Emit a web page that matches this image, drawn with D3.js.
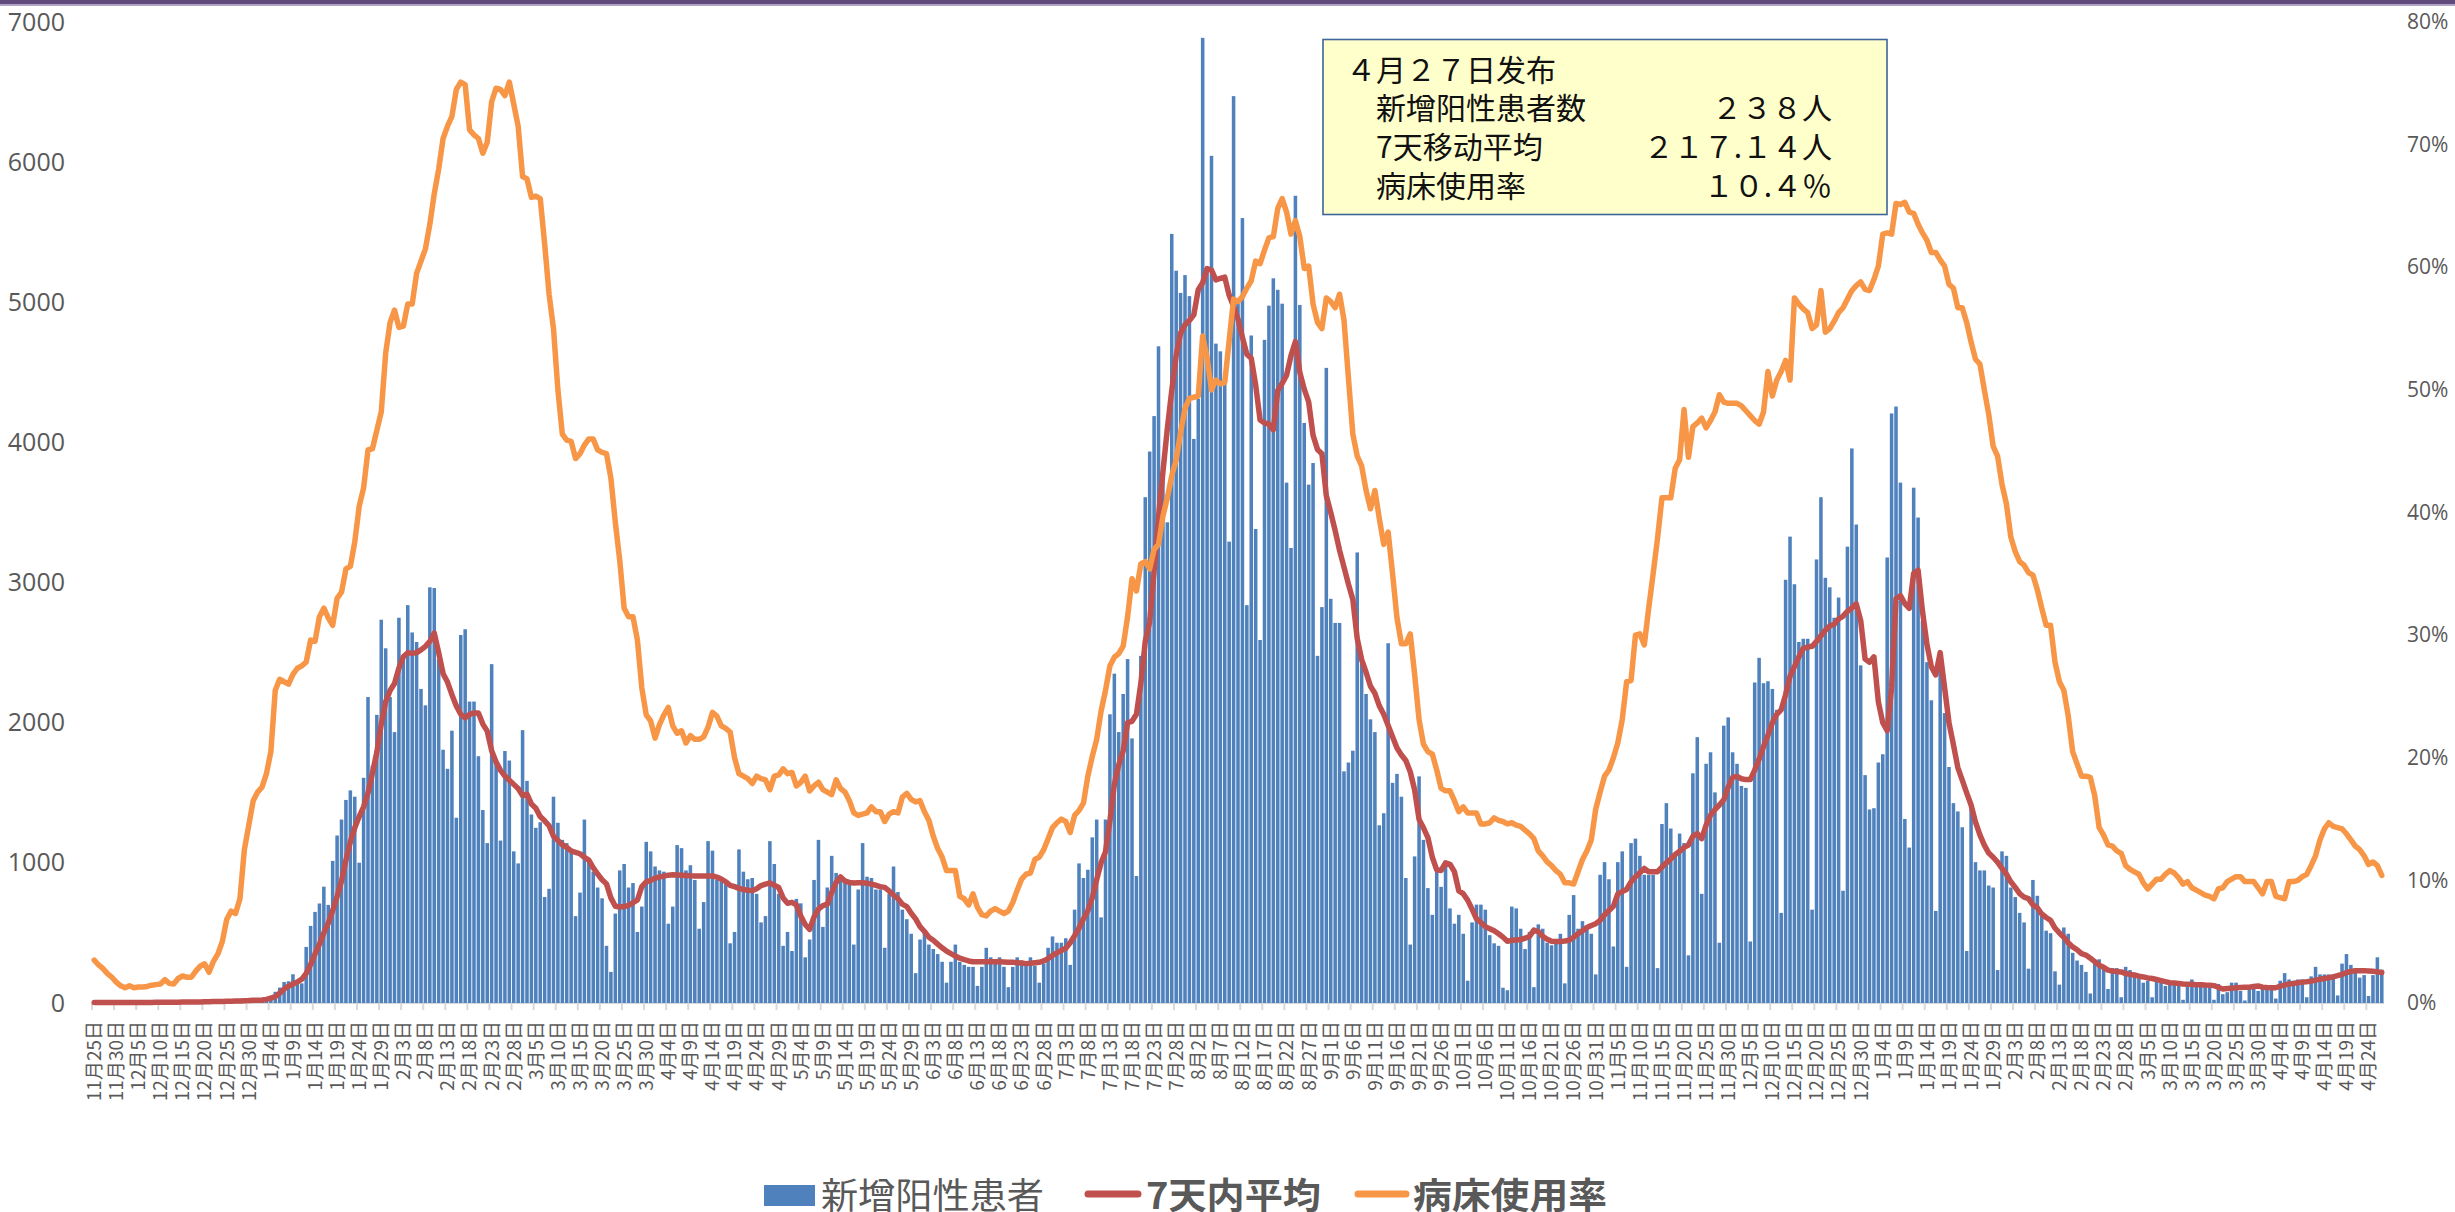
<!DOCTYPE html>
<html><head><meta charset="utf-8">
<script src="https://cdn.jsdelivr.net/npm/d3@7"></script>
<style>body{margin:0;background:#fff;overflow:hidden}</style>
</head><body>
<svg id="chart" width="2455" height="1212" xmlns="http://www.w3.org/2000/svg"></svg>
<script>
// ---------- data ----------
const firstDay = {year: 2020, month: 11, day: 25};   // first category: 11月25日
const newCases = [
2,3,1,4,2,3,5,2,4,6, 3,5,4,7,3,6,8,5,9,4, 7,10,6,12,8,11,9,14,10,13, 16,12,18,15,20,17,22,25,28,30,
45,80,110,150,155,205,135,140,400,550, 650,710,830,700,1014,1195,1309,1449,1517,1472,
1001,1607,2183,1693,2056,2735,2531,2183,1933,2749, 2454,2839,2644,2576,2241,2124,2966,2961,2454,1807,
1671,1943,1322,2626,2667,2151,2151,1761,1377,1141, 2418,1707,1159,1798,1730,1082,996,1947,1585,1345,
1250,1290,756,815,1472,1286,1164,1141,1096,620, 788,1309,1028,937,824,747,408,222,638,946,
992,824,856,507,688,1150,1082,974,946,937, 566,688,1127,1105,946,983,878,530,720,1155,
1087,878,869,847,426,507,1096,937,883,892, 779,575,620,1155,992,779,408,507,371,743,
711,326,453,878,1164,543,824,1050,928,892, 869,847,417,810,1141,901,892,810,810,394,
779,974,792,666,598,494,213,453,507,417, 385,349,294,145,294,417,294,272,258,258,
122,258,394,326,303,326,258,113,258,326, 303,281,326,267,145,281,394,475,430,430,
462,272,666,996,892,951,1182,1309,611,1309, 2060,2350,1933,2205,2454,1888,906,2477,3609,3935,
4188,4686,3754,3430,5488,5225,5067,5194,5044,4025, 4311,6887,5239,6045,4705,4650,4424,3292,6471,4990,
5601,2839,4763,3382,2590,4732,4976,5171,5089,4990, 3713,3247,5760,4981,4139,3699,3853,2477,2825,4532,
2884,2712,2712,1653,1716,1800,3215,2477,2205,2024, 1933,1268,1354,2567,1571,1635,1472,892,417,1046,
1617,1164,820,629,937,829,974,675,566,629, 494,159,575,702,702,666,484,426,408,109,
91,688,675,530,385,507,113,561,530,430, 412,430,494,140,629,770,530,584,552,494,
204,915,1005,883,403,1005,1082,258,1141,1173, 1050,915,915,915,249,1277,1426,1245,1064,1209,
1141,340,1639,1897,779,1707,1789,1503,430,1979, 2038,1789,1707,1549,1535,439,2287,2463,2282,2296,
2241,2092,643,3020,3328,2988,2576,2599,2599,666, 3165,3609,3034,2966,2749,2893,801,3256,3957,3414,
2409,1626,1381,1390,1716,1775,3179,4207,4256,3713, 1313,1109,3677,3464,2726,2432,2160,657,2386,2069,
1684,1426,1367,1254,371,1399,1005,946,946,838, 824,235,1082,1050,824,756,643,575,245,878,
765,620,516,498,226,131,539,494,358,303, 272,222,68,303,312,258,100,249,249,41,
258,235,204,177,145,159,41,177,177,122, 131,131,122,23,122,168,122,122,122,122,
23,136,63,77,145,145,86,18,113,136, 86,113,113,113,32,159,213,168,159,168,
168,41,190,258,204,204,204,204,54,281, 349,272,235,181,199,50,199,326,238
];
const avg7 = [
3,3,3,3,3,3,3,3,3,4, 4,4,4,4,5,5,5,6,6,6, 7,7,7,8,8,9,9,10,10,11, 12,13,14,15,16,17,19,20,22,25,
35,45,70,100,120,135,150,170,210,275, 350,420,500,570,660,760,870,1020,1150,1250,
1330,1400,1500,1640,1790,1990,2150,2230,2280,2390, 2470,2500,2495,2500,2520,2545,2580,2640,2500,2350,
2290,2200,2120,2060,2035,2060,2070,2070,1990,1940, 1800,1720,1660,1620,1590,1560,1530,1480,1490,1420,
1390,1330,1300,1265,1190,1160,1130,1110,1085,1075, 1065,1040,1020,965,920,880,850,750,690,685,
688,697,715,735,830,865,875,890,900,905, 912,915,914,912,910,908,907,906,906,906,
906,898,885,865,840,830,818,810,805,802, 815,838,848,856,840,824,750,712,718,700,
620,560,525,615,670,695,705,790,860,900, 870,860,856,858,858,855,848,840,830,825,
800,770,745,705,688,640,600,545,510,470, 448,420,394,370,352,335,320,310,300,294,
294,294,294,294,294,294,292,290,290,288, 285,281,283,287,290,300,317,340,358,375,
390,430,480,535,600,660,750,880,1000,1080, 1300,1560,1700,1800,2000,2010,2060,2280,2580,2720,
3080,3470,3790,4100,4370,4620,4780,4840,4870,4910, 5090,5140,5240,5230,5160,5170,5180,5050,4970,4880,
4750,4630,4600,4410,4160,4140,4130,4090,4370,4420, 4480,4620,4720,4500,4380,4290,4050,3950,3920,3620,
3500,3370,3230,3110,2990,2880,2600,2450,2360,2260, 2210,2120,2060,1980,1900,1820,1770,1730,1650,1520,
1310,1250,1180,1040,950,946,1000,990,937,800, 780,734,670,600,575,545,530,515,494,470,
440,447,450,453,462,475,520,510,475,455, 440,439,439,442,448,470,494,515,539,553,
566,590,630,660,690,779,795,810,865,900, 930,960,937,937,937,970,1000,1028,1060,1082,
1110,1127,1190,1209,1173,1270,1340,1380,1413,1450, 1540,1610,1617,1600,1594,1594,1662,1740,1830,1911,
2000,2060,2092,2200,2330,2400,2470,2531,2540,2545, 2580,2620,2660,2690,2703,2740,2760,2794,2820,2848,
2730,2454,2432,2470,2150,2000,1943,2250,2884,2907, 2850,2816,3065,3088,2794,2560,2400,2341,2500,2250,
2000,1843,1680,1590,1500,1413,1290,1200,1127,1070, 1040,1005,960,920,865,825,780,755,745,700,
680,635,610,590,535,500,470,430,400,380, 352,342,320,295,270,255,235,228,225,222,
210,204,200,192,186,179,175,168,160,152, 145,142,139,136,134,133,131,130,128,127,
124,112,100,103,106,109,111,113,113,118, 122,113,110,109,109,120,128,136,140,145,
149,152,156,163,170,175,181,186,195,204, 218,225,231,231,231,229,226,222,217.14
];
const bedRate = [
3.5,3.1,2.8,2.4,2.1,1.7,1.4,1.25,1.4,1.25, 1.3,1.3,1.35,1.45,1.5,1.55,1.9,1.6,1.55,2.0,
2.2,2.1,2.1,2.6,3.0,3.2,2.5,3.4,4.0,5.0, 6.8,7.5,7.3,8.5,12.5,14.5,16.5,17.2,17.6,18.7,
20.5,25.5,26.4,26.2,26.0,26.8,27.3,27.5,27.8,29.6, 29.5,31.5,32.2,31.4,30.8,33.0,33.5,35.4,35.6,37.6,
40.5,42.0,45.1,45.2,46.7,48.2,53.0,55.5,56.5,55.1, 55.2,57.0,57.0,59.5,60.5,61.5,63.5,66.0,68.0,70.5,
71.5,72.3,74.5,75.1,74.9,71.2,70.8,70.5,69.3,70.2, 73.5,74.6,74.5,74.0,75.1,73.3,71.5,67.4,67.2,65.7,
65.8,65.6,61.9,57.8,55.0,50.0,46.4,45.9,45.8,44.4, 44.8,45.5,46.0,46.0,45.1,44.9,44.8,42.8,39.2,36.1,
32.2,31.5,31.5,29.6,25.7,23.5,23.0,21.6,22.7,23.5, 24.1,22.6,22.0,22.2,21.2,21.8,21.5,21.5,21.7,22.5,
23.7,23.4,22.6,22.4,22.1,20.0,18.7,18.5,18.3,17.9, 18.5,18.3,18.2,17.4,18.5,18.6,19.1,18.7,18.8,17.7,
18.0,18.5,17.3,17.7,18.0,17.4,17.2,17.0,18.2,17.5, 17.2,16.5,15.5,15.3,15.4,15.5,16.0,15.6,15.6,14.8,
15.4,15.6,15.5,16.8,17.1,16.6,16.4,16.5,15.6,14.9, 13.6,12.6,11.9,10.8,10.8,10.8,8.7,8.5,8.0,8.9,
7.8,7.2,7.1,7.5,7.7,7.5,7.3,7.5,8.2,9.2, 10.1,10.5,10.6,11.7,11.9,12.5,13.4,14.3,14.7,15.0,
14.8,13.9,15.3,15.7,16.3,18.5,20.1,21.5,23.8,25.5, 27.5,28.2,28.5,29.1,31.5,34.6,33.6,35.8,36.0,35.4,
37.0,37.4,39.7,41.2,43.0,44.3,46.5,48.5,49.3,49.4, 49.5,54.4,52.6,50.0,50.8,50.5,50.6,54.0,57.4,57.2,
57.6,58.3,58.9,60.5,60.3,61.4,62.4,62.5,64.8,65.6, 64.5,62.7,63.8,62.5,59.9,60.1,57.0,55.5,55.0,57.5,
57.2,56.7,57.8,55.7,51.0,46.4,44.6,43.8,41.8,40.3, 41.8,39.5,37.4,38.4,35.0,31.4,29.3,29.3,30.1,26.8,
23.1,21.1,20.5,20.3,19.0,17.5,17.3,17.3,16.5,15.6, 16.0,15.5,15.5,15.5,14.6,14.6,14.7,15.1,14.9,14.8,
14.6,14.7,14.5,14.4,14.1,13.8,13.4,12.4,12.0,11.5, 11.2,10.8,10.5,9.8,9.8,9.7,10.7,11.7,12.4,13.3,
15.8,17.2,18.5,19.0,20.0,21.2,23.1,26.2,26.3,30.0, 30.1,29.2,32.2,35.0,37.9,41.2,41.2,41.2,43.6,44.3,
48.4,44.5,47.0,47.3,47.7,46.9,47.5,48.2,49.6,49.0, 48.9,48.9,48.9,48.7,48.3,47.9,47.5,47.2,48.2,51.5,
49.5,50.8,51.5,52.4,50.8,57.5,57.0,56.6,56.3,55.0, 55.3,58.1,54.7,55.0,55.6,56.3,56.7,57.4,58.1,58.5,
58.8,58.2,58.1,59.0,60.1,62.7,62.8,62.7,65.2,65.1, 65.3,64.5,64.4,63.5,62.8,62.2,61.2,61.2,60.6,60.1,
58.6,58.3,56.7,56.7,55.5,53.9,52.5,52.1,50.0,48.0, 45.4,44.6,42.3,40.7,38.0,36.8,36.0,35.7,35.1,34.9,
33.7,32.2,30.8,30.8,27.8,26.2,25.5,23.4,20.5,19.5, 18.5,18.5,18.4,16.9,14.3,13.7,12.9,12.8,12.4,12.2,
11.2,10.9,10.7,10.5,9.8,9.3,9.7,10.1,10.1,10.5, 10.8,10.6,10.2,9.7,9.9,9.4,9.2,9.0,8.8,8.7,
8.5,9.3,9.4,9.9,10.1,10.3,10.3,9.9,9.9,9.9, 9.4,8.9,9.9,9.9,8.7,8.6,8.5,9.9,9.9,10.0,
10.3,10.5,11.2,12.0,13.3,14.2,14.7,14.4,14.3,14.2, 13.8,13.3,12.8,12.5,12.0,11.3,11.5,11.2,10.4
];
const leftTicks = [0,1000,2000,3000,4000,5000,6000,7000];
const rightTicks = [0,10,20,30,40,50,60,70,80];
const labelEvery = 5;
const legendLabels = ["新增阳性患者","7天内平均","病床使用率"];
const infoTitle = "４月２７日发布";
const infoLabels = ["新增阳性患者数","7天移动平均","病床使用率"];
const infoValues = ["２３８人","２１７.１４人","１０.４％"];

// ---------- chart ----------
const n = newCases.length;
const categories = d3.range(n).map(i => {
  const d = new Date(firstDay.year, firstDay.month - 1, firstDay.day + i);
  return (d.getMonth() + 1) + "月" + d.getDate() + "日";
});
const labelIdx = d3.range(0, n, labelEvery);

const svg = d3.select("#chart");
const plot = {left: 92, right: 2384, top: 22, bottom: 1003};
const x = d3.scaleBand().domain(d3.range(n)).range([plot.left, plot.right]).padding(0);
const bw = x.bandwidth();
const yL = d3.scaleLinear().domain([0, 7000]).range([plot.bottom, plot.top]);
const yR = d3.scaleLinear().domain([0, 80]).range([plot.bottom, plot.top]);

const AXIS = "#595959";
const LATIN = "'Open Sans','Noto Sans',sans-serif";
const CJK = "'Noto Sans CJK JP','Noto Sans CJK SC',sans-serif";

// top band
svg.append("rect").attr("x",0).attr("y",0).attr("width",2455).attr("height",4.5).attr("fill","#604A7B");
svg.append("rect").attr("x",0).attr("y",4.5).attr("width",2455).attr("height",1.5).attr("fill","#B3A2C7");

// x axis line
svg.append("line").attr("x1",plot.left).attr("x2",plot.right)
  .attr("y1",plot.bottom).attr("y2",plot.bottom).attr("stroke","#D9D9D9").attr("stroke-width",2);

// tick marks at category boundaries
svg.append("g").selectAll("line").data(labelIdx).join("line")
  .attr("x1", i => x(i)).attr("x2", i => x(i))
  .attr("y1", plot.bottom).attr("y2", plot.bottom + 7)
  .attr("stroke","#D9D9D9").attr("stroke-width",2);

// bars
svg.append("g").selectAll("rect").data(newCases).join("rect")
  .attr("x", (d,i) => x(i) + bw*0.1)
  .attr("width", bw*0.8)
  .attr("y", d => yL(d))
  .attr("height", d => plot.bottom - yL(d))
  .attr("fill", "#4F81BD");

// lines
const cx = i => x(i) + bw/2;
svg.append("path").datum(avg7)
  .attr("d", d3.line().x((d,i)=>cx(i)).y(d=>yL(d)))
  .attr("fill","none").attr("stroke","#C0504D").attr("stroke-width",5.5)
  .attr("stroke-linejoin","round").attr("stroke-linecap","round");
svg.append("path").datum(bedRate)
  .attr("d", d3.line().x((d,i)=>cx(i)).y(d=>yR(d)))
  .attr("fill","none").attr("stroke","#F79646").attr("stroke-width",5.5)
  .attr("stroke-linejoin","round").attr("stroke-linecap","round");

// left axis
const gL = svg.append("g").attr("transform","translate(65,0)")
  .call(d3.axisLeft(yL).tickValues(leftTicks).tickFormat(d3.format("d")).tickSize(0).tickPadding(0));
gL.select(".domain").remove();
gL.selectAll("text").attr("fill",AXIS).attr("font-size",25).attr("font-family",LATIN);

// right axis
const gR = svg.append("g").attr("transform","translate(2407,0)")
  .call(d3.axisRight(yR).tickValues(rightTicks).tickFormat(d => d + "%").tickSize(0).tickPadding(0));
gR.select(".domain").remove();
gR.selectAll("text").attr("fill",AXIS).attr("font-size",21).attr("font-family",LATIN);

// x labels
const gX = svg.append("g").attr("transform",`translate(0,${plot.bottom})`)
  .call(d3.axisBottom(x).tickValues(labelIdx).tickFormat(i => categories[i]).tickSize(0).tickPadding(0));
gX.select(".domain").remove();
gX.selectAll("text")
  .attr("transform","rotate(-90)")
  .attr("text-anchor","end")
  .attr("x",-18).attr("y",0).attr("dy","0.36em")
  .attr("fill",AXIS).attr("font-size",19).attr("font-family",CJK);

// info box
const box = svg.append("g");
box.append("rect").attr("x",1323).attr("y",39.5).attr("width",564).attr("height",175)
  .attr("fill","#FFFFCC").attr("stroke","#3E6696").attr("stroke-width",1.6);
box.append("text").attr("x",1346).attr("y",68).attr("dominant-baseline","central")
  .attr("font-size",30).attr("font-family",CJK).attr("fill","#111").text(infoTitle);
const rowsY = [106,145,184];
box.selectAll("text.lab").data(infoLabels).join("text").attr("class","lab")
  .attr("x",1376).attr("y",(d,i)=>rowsY[i]).attr("dominant-baseline","central")
  .attr("font-size",30).attr("font-family",CJK).attr("fill","#111").text(d=>d);
box.selectAll("text.val").data(infoValues).join("text").attr("class","val")
  .attr("x",1832).attr("y",(d,i)=>rowsY[i]).attr("dominant-baseline","central").attr("text-anchor","end")
  .attr("font-size",30).attr("font-family",CJK).attr("fill","#111").text(d=>d);

// legend
const lg = svg.append("g");
lg.append("rect").attr("x",764).attr("y",1185).attr("width",51).attr("height",21).attr("fill","#4F81BD");
lg.append("line").attr("x1",1088).attr("x2",1138).attr("y1",1194).attr("y2",1194)
  .attr("stroke","#C0504D").attr("stroke-width",7).attr("stroke-linecap","round");
lg.append("line").attr("x1",1358).attr("x2",1406).attr("y1",1194).attr("y2",1194)
  .attr("stroke","#F79646").attr("stroke-width",7).attr("stroke-linecap","round");
const legX = [821, 1146, 1413], legW = [223, 175, 194], legWt = [400, 700, 700];
lg.selectAll("text").data(legendLabels).join("text")
  .attr("x",(d,i)=>legX[i]).attr("y",1193).attr("dominant-baseline","central")
  .attr("textLength",(d,i)=>legW[i]).attr("lengthAdjust","spacingAndGlyphs")
  .attr("font-size",36).attr("font-weight",(d,i)=>legWt[i]).attr("font-family",CJK)
  .attr("fill",AXIS).text(d=>d);
</script>
</body></html>
